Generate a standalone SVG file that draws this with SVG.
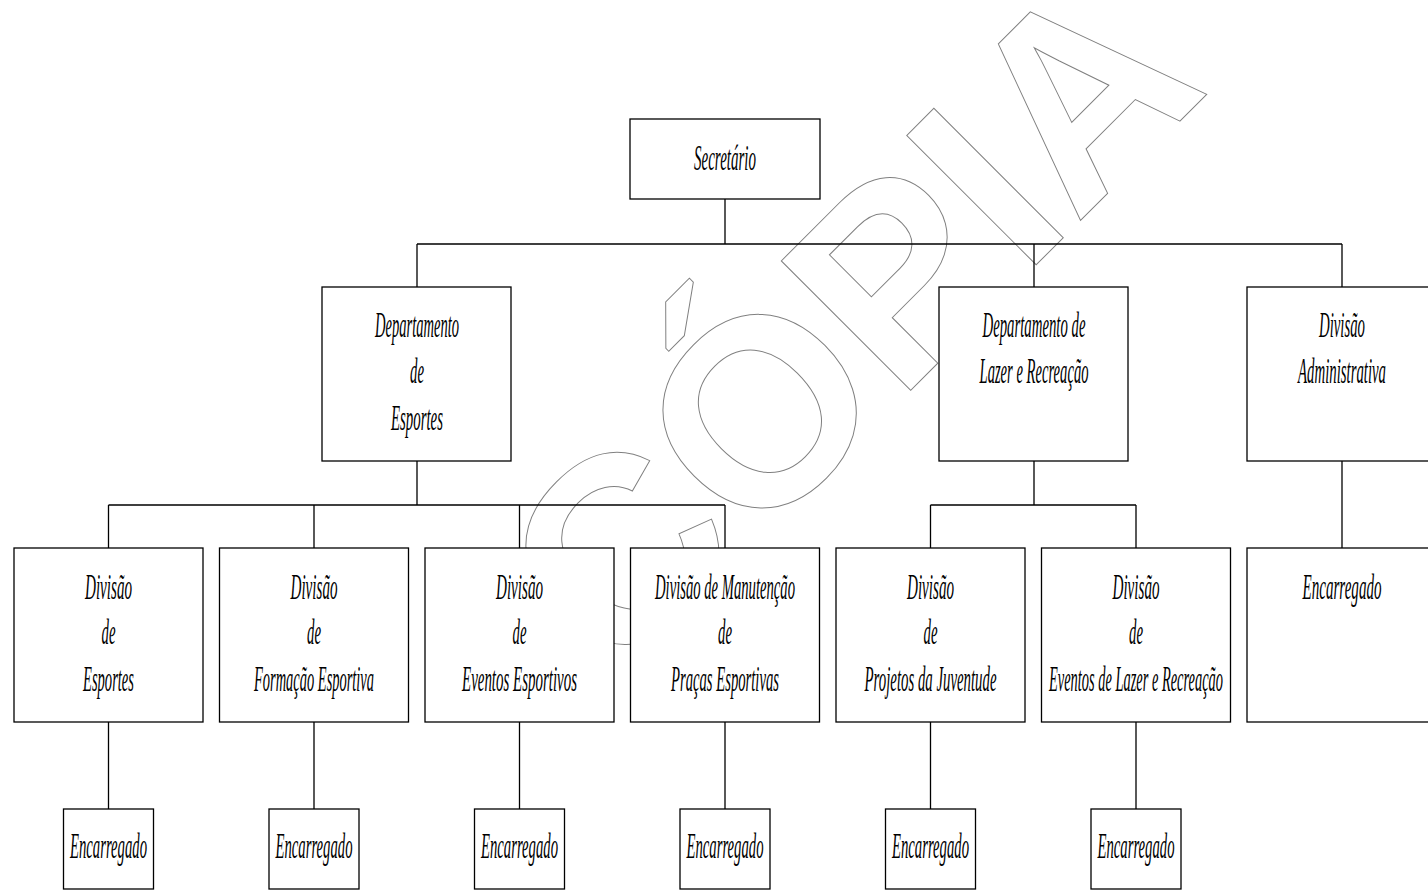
<svg xmlns="http://www.w3.org/2000/svg" width="1428" height="890" viewBox="0 0 1428 890">
  <style>
    .box { fill: #ffffff; stroke: #000000; stroke-width: 1.3; }
    .wire { fill: none; stroke: #000000; stroke-width: 1.3; }
    .lbl { font-family: "Liberation Serif", "Times New Roman", serif; font-style: italic; font-size: 35px; fill: #000000; text-anchor: middle; }
    .wm { font-family: "Liberation Sans", Arial, sans-serif; font-weight: bold; font-size: 266px; fill: none; stroke: #808080; stroke-width: 1; }
  </style>
  <rect width="1428" height="890" fill="#ffffff"/>

  <!-- outlined watermark -->
  <g id="watermark">
    <text class="wm" transform="translate(616,685) rotate(-45)">CÓPIA</text>
  </g>

  <!-- connectors -->
  <g id="connectors" class="wire">
    <path d="M725 199 V244 M417 244 H1342 M417 244 V287 M1034 244 V287 M1342 244 V287"/>
    <path d="M417 461 V505 M108.5 505 H725 M108.5 505 V548 M314 505 V548 M519.5 505 V548 M725 505 V548"/>
    <path d="M1034 461 V505 M930.5 505 H1136 M930.5 505 V548 M1136 505 V548"/>
    <path d="M1342 461 V548"/>
    <path d="M108.5 722 V809 M314 722 V809 M519.5 722 V809 M725 722 V809 M930.5 722 V809 M1136 722 V809"/>
  </g>

  <!-- top level -->
  <g id="secretario">
    <rect class="box" x="630" y="119" width="190" height="80"/>
    <text class="lbl" x="725" y="170" textLength="62" lengthAdjust="spacingAndGlyphs">Secretário</text>
  </g>

  <!-- departments -->
  <g id="dep-esportes">
    <rect class="box" x="322" y="287" width="189" height="174"/>
    <text class="lbl" x="417" y="337" textLength="84" lengthAdjust="spacingAndGlyphs">Departamento</text>
    <text class="lbl" x="417" y="383" textLength="14" lengthAdjust="spacingAndGlyphs">de</text>
    <text class="lbl" x="417" y="430" textLength="52" lengthAdjust="spacingAndGlyphs">Esportes</text>
  </g>
  <g id="dep-lazer">
    <rect class="box" x="939" y="287" width="189" height="174"/>
    <text class="lbl" x="1034" y="337" textLength="103" lengthAdjust="spacingAndGlyphs">Departamento de</text>
    <text class="lbl" x="1034" y="383" textLength="109" lengthAdjust="spacingAndGlyphs">Lazer e Recreação</text>
  </g>
  <g id="div-administrativa">
    <rect class="box" x="1247" y="287" width="189" height="174"/>
    <text class="lbl" x="1342" y="337" textLength="46" lengthAdjust="spacingAndGlyphs">Divisão</text>
    <text class="lbl" x="1342" y="383" textLength="88" lengthAdjust="spacingAndGlyphs">Administrativa</text>
  </g>

  <!-- divisions -->
  <g id="div-esportes">
    <rect class="box" x="14" y="548" width="189" height="174"/>
    <text class="lbl" x="108.5" y="599" textLength="47" lengthAdjust="spacingAndGlyphs">Divisão</text>
    <text class="lbl" x="108.5" y="644" textLength="14" lengthAdjust="spacingAndGlyphs">de</text>
    <text class="lbl" x="108.5" y="691" textLength="51" lengthAdjust="spacingAndGlyphs">Esportes</text>
  </g>
  <g id="div-formacao">
    <rect class="box" x="219.5" y="548" width="189" height="174"/>
    <text class="lbl" x="314" y="599" textLength="47" lengthAdjust="spacingAndGlyphs">Divisão</text>
    <text class="lbl" x="314" y="644" textLength="14" lengthAdjust="spacingAndGlyphs">de</text>
    <text class="lbl" x="314" y="691" textLength="120" lengthAdjust="spacingAndGlyphs">Formação Esportiva</text>
  </g>
  <g id="div-eventos">
    <rect class="box" x="425" y="548" width="189" height="174"/>
    <text class="lbl" x="519.5" y="599" textLength="47" lengthAdjust="spacingAndGlyphs">Divisão</text>
    <text class="lbl" x="519.5" y="644" textLength="14" lengthAdjust="spacingAndGlyphs">de</text>
    <text class="lbl" x="519.5" y="691" textLength="115" lengthAdjust="spacingAndGlyphs">Eventos Esportivos</text>
  </g>
  <g id="div-manutencao">
    <rect class="box" x="630.5" y="548" width="189" height="174"/>
    <text class="lbl" x="725" y="599" textLength="140" lengthAdjust="spacingAndGlyphs">Divisão de Manutenção</text>
    <text class="lbl" x="725" y="644" textLength="14" lengthAdjust="spacingAndGlyphs">de</text>
    <text class="lbl" x="725" y="691" textLength="108" lengthAdjust="spacingAndGlyphs">Praças Esportivas</text>
  </g>
  <g id="div-juventude">
    <rect class="box" x="836" y="548" width="189" height="174"/>
    <text class="lbl" x="930.5" y="599" textLength="47" lengthAdjust="spacingAndGlyphs">Divisão</text>
    <text class="lbl" x="930.5" y="644" textLength="14" lengthAdjust="spacingAndGlyphs">de</text>
    <text class="lbl" x="930.5" y="691" textLength="132" lengthAdjust="spacingAndGlyphs">Projetos da Juventude</text>
  </g>
  <g id="div-eventos-lazer">
    <rect class="box" x="1041.5" y="548" width="189" height="174"/>
    <text class="lbl" x="1136" y="599" textLength="47" lengthAdjust="spacingAndGlyphs">Divisão</text>
    <text class="lbl" x="1136" y="644" textLength="14" lengthAdjust="spacingAndGlyphs">de</text>
    <text class="lbl" x="1136" y="691" textLength="174" lengthAdjust="spacingAndGlyphs">Eventos de Lazer e Recreação</text>
  </g>
  <g id="enc-administrativa">
    <rect class="box" x="1247" y="548" width="189" height="174"/>
    <text class="lbl" x="1342" y="599" textLength="79" lengthAdjust="spacingAndGlyphs">Encarregado</text>
  </g>

  <!-- supervisors -->
  <g id="enc-esportes">
    <rect class="box" x="63.5" y="809" width="90" height="80"/>
    <text class="lbl" x="108.5" y="858" textLength="77" lengthAdjust="spacingAndGlyphs">Encarregado</text>
  </g>
  <g id="enc-formacao">
    <rect class="box" x="269" y="809" width="90" height="80"/>
    <text class="lbl" x="314" y="858" textLength="77" lengthAdjust="spacingAndGlyphs">Encarregado</text>
  </g>
  <g id="enc-eventos">
    <rect class="box" x="474.5" y="809" width="90" height="80"/>
    <text class="lbl" x="519.5" y="858" textLength="77" lengthAdjust="spacingAndGlyphs">Encarregado</text>
  </g>
  <g id="enc-manutencao">
    <rect class="box" x="680" y="809" width="90" height="80"/>
    <text class="lbl" x="725" y="858" textLength="77" lengthAdjust="spacingAndGlyphs">Encarregado</text>
  </g>
  <g id="enc-juventude">
    <rect class="box" x="885.5" y="809" width="90" height="80"/>
    <text class="lbl" x="930.5" y="858" textLength="77" lengthAdjust="spacingAndGlyphs">Encarregado</text>
  </g>
  <g id="enc-eventos-lazer">
    <rect class="box" x="1091" y="809" width="90" height="80"/>
    <text class="lbl" x="1136" y="858" textLength="77" lengthAdjust="spacingAndGlyphs">Encarregado</text>
  </g>
</svg>
